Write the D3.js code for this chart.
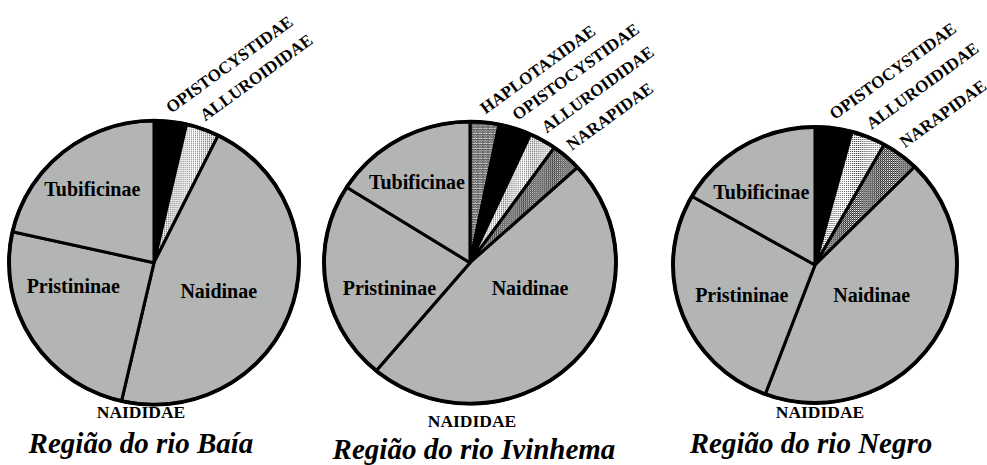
<!DOCTYPE html>
<html>
<head>
<meta charset="utf-8">
<script src="https://cdn.jsdelivr.net/npm/d3@7"></script>
<style>
body { margin: 0; background: #fff; }
svg { display: block; font-family: 'Liberation Serif', 'Times New Roman', serif; font-weight: bold; }
</style>
</head>
<body>
<svg id="chart" width="987" height="465"></svg>
<script>
//----------DATA----------

var categories = ['HAPLOTAXIDAE', 'OPISTOCYSTIDAE', 'ALLUROIDIDAE', 'NARAPIDAE', 'Naidinae', 'Pristininae', 'Tubificinae'];
var regionTitles = ['Região do rio Baía', 'Região do rio Ivinhema', 'Região do rio Negro'];
var familyName = 'NAIDIDAE';

// share of each category (%); 0 = not present
var baiaValues     = [0,   3.6, 3.7, 0,   46.3, 24.9, 21.5];
var ivinhemaValues = [3.2, 3.6, 3.0, 3.4, 47.9, 22.9, 16.0];
var negroValues    = [0,   4.2, 3.9, 4.3, 43.3, 27.6, 16.7];
var regionValues = [baiaValues, ivinhemaValues, negroValues];

//----------LAYOUT----------

// inner labels are placed in polar terms: [degrees clockwise from north, fraction of radius]
var layout = [
    {cx: 154, cy: 262.7, rx: 145, ry: 142, titleX: 141, titleY: 453, famX: 141, famY: 418,
     inner: {Tubificinae: [320.6, 0.67], Pristininae: [253.6, 0.58], Naidinae: [114.3, 0.49]}},
    {cx: 470, cy: 262.7, rx: 146, ry: 141, titleX: 474, titleY: 459, famX: 472, famY: 427,
     inner: {Tubificinae: [327.7, 0.68], Pristininae: [252.3, 0.58], Naidinae: [114, 0.45]}},
    {cx: 815, cy: 265, rx: 142, ry: 138, titleX: 811, titleY: 453, famX: 820, famY: 418,
     inner: {Tubificinae: [324.4, 0.65], Pristininae: [247, 0.56], Naidinae: [118.7, 0.455]}}
];

var grey = '#b3b5b5';
var fills = {
    'HAPLOTAXIDAE': 'url(#haplo)',
    'OPISTOCYSTIDAE': '#000',
    'ALLUROIDIDAE': 'url(#dots)',
    'NARAPIDAE': 'url(#narap)',
    'Naidinae': grey,
    'Pristininae': grey,
    'Tubificinae': grey
};

var svg = d3.select('#chart');

//----------PATTERNS----------

var defs = svg.append('defs');

var dots = defs.append('pattern').attr('id', 'dots')
    .attr('width', 2).attr('height', 2).attr('patternUnits', 'userSpaceOnUse');
dots.append('rect').attr('width', 2).attr('height', 2).attr('fill', '#fff');
dots.append('rect').attr('width', 1).attr('height', 1).attr('fill', '#444');

var narap = defs.append('pattern').attr('id', 'narap')
    .attr('width', 2).attr('height', 2).attr('patternUnits', 'userSpaceOnUse');
narap.append('rect').attr('width', 2).attr('height', 2).attr('fill', '#fff');
narap.append('rect').attr('width', 1).attr('height', 1).attr('fill', '#222');
narap.append('rect').attr('x', 1).attr('y', 1).attr('width', 1).attr('height', 1).attr('fill', '#222');
narap.append('rect').attr('x', 1).attr('width', 1).attr('height', 1).attr('fill', '#888');

var haplo = defs.append('pattern').attr('id', 'haplo')
    .attr('width', 5).attr('height', 5).attr('patternUnits', 'userSpaceOnUse');
haplo.append('rect').attr('width', 5).attr('height', 5).attr('fill', '#fff');
haplo.append('path')
    .attr('d', 'M0,1 L1.25,2.5 L2.5,1 L3.75,2.5 L5,1 M0,3.5 L1.25,5 L2.5,3.5 L3.75,5 L5,3.5')
    .attr('fill', 'none').attr('stroke', '#222').attr('stroke-width', 1.1);

//----------DRAWING----------

var pie = d3.pie().sort(null).value(function(d) { return d.value; });
var arc = d3.arc().innerRadius(0);

function polar(L, deg, frac) {
    var a = deg * Math.PI / 180;
    return [Math.sin(a) * L.rx * frac, -Math.cos(a) * L.ry * frac];
}

function drawPie(i) {
    var L = layout[i];
    var data = categories.map(function(c, j) { return {name: c, value: regionValues[i][j]}; })
        .filter(function(d) { return d.value > 0; });
    var slices = pie(data);

    var g = svg.append('g').attr('transform', 'translate(' + L.cx + ',' + L.cy + ')');
    var body = g.append('g').attr('transform', 'scale(' + (L.rx / L.ry) + ',1)');

    body.selectAll('path')
        .data(slices)
        .enter()
        .append('path')
        .attr('d', arc.outerRadius(L.ry))
        .attr('fill', function(d) { return fills[d.data.name]; })
        .attr('stroke', '#000')
        .attr('stroke-width', 3)
        .attr('stroke-linejoin', 'round');

    body.append('circle')
        .attr('r', L.ry)
        .attr('fill', 'none')
        .attr('stroke', '#000')
        .attr('stroke-width', 3.8);

    // families outside the pie, tilted, starting just past the rim
    slices.filter(function(d) { return !L.inner[d.data.name]; }).forEach(function(d) {
        var mid = (d.startAngle + d.endAngle) / 2;
        var x = Math.sin(mid) * (L.rx + 8);
        var y = -Math.cos(mid) * (L.ry + 8);
        g.append('text')
            .attr('transform', 'translate(' + x + ',' + y + ') rotate(-36)')
            .attr('font-size', 17)
            .text(d.data.name);
    });

    // subfamilies inside the pie
    slices.filter(function(d) { return L.inner[d.data.name]; }).forEach(function(d) {
        var p = polar(L, L.inner[d.data.name][0], L.inner[d.data.name][1]);
        g.append('text')
            .attr('x', p[0])
            .attr('y', p[1])
            .attr('dy', '0.35em')
            .attr('text-anchor', 'middle')
            .attr('font-size', 20)
            .text(d.data.name);
    });

    svg.append('text')
        .attr('x', L.famX)
        .attr('y', L.famY)
        .attr('text-anchor', 'middle')
        .attr('font-size', 17.5)
        .text(familyName);

    svg.append('text')
        .attr('x', L.titleX)
        .attr('y', L.titleY)
        .attr('text-anchor', 'middle')
        .attr('font-size', 29)
        .attr('font-style', 'italic')
        .text(regionTitles[i]);
}

for (var i = 0; i < regionTitles.length; i++) {
    drawPie(i);
}
</script>
</body>
</html>
